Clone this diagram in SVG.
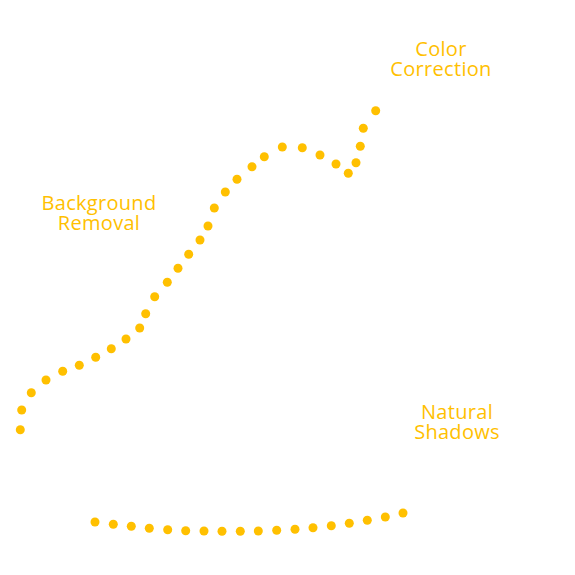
<svg xmlns="http://www.w3.org/2000/svg" width="575" height="575" viewBox="0 0 575 575">
<style>
.d{fill:#FFC000}
.t{font-family:"Open Sans","Liberation Sans",sans-serif;font-size:20px;letter-spacing:0.3px;fill:#FFC000;text-anchor:middle}
</style>
<rect width="575" height="575" fill="#fff"/>
<g id="connectors">
<g id="curve-top">
<circle class="d" cx="375.7" cy="110.7" r="4.5"/>
<circle class="d" cx="363.3" cy="128.3" r="4.5"/>
<circle class="d" cx="360.3" cy="146.3" r="4.5"/>
<circle class="d" cx="356" cy="162.7" r="4.5"/>
<circle class="d" cx="348.3" cy="173.3" r="4.5"/>
<circle class="d" cx="336" cy="164" r="4.5"/>
<circle class="d" cx="320" cy="155" r="4.5"/>
<circle class="d" cx="302.3" cy="147.7" r="4.5"/>
<circle class="d" cx="282.3" cy="147" r="4.5"/>
<circle class="d" cx="264.3" cy="156.7" r="4.5"/>
<circle class="d" cx="252" cy="166.7" r="4.5"/>
<circle class="d" cx="237" cy="179.3" r="4.5"/>
<circle class="d" cx="225.3" cy="192" r="4.5"/>
<circle class="d" cx="214.3" cy="208" r="4.5"/>
<circle class="d" cx="208" cy="226" r="4.5"/>
<circle class="d" cx="200" cy="240" r="4.5"/>
<circle class="d" cx="188.7" cy="254.3" r="4.5"/>
<circle class="d" cx="178" cy="268.3" r="4.5"/>
<circle class="d" cx="167.3" cy="282.3" r="4.5"/>
<circle class="d" cx="154.7" cy="296.7" r="4.5"/>
<circle class="d" cx="145.7" cy="313.7" r="4.5"/>
<circle class="d" cx="139.7" cy="328" r="4.5"/>
<circle class="d" cx="126" cy="339" r="4.5"/>
<circle class="d" cx="111.3" cy="348.7" r="4.5"/>
<circle class="d" cx="95.7" cy="357.3" r="4.5"/>
<circle class="d" cx="79.3" cy="365.3" r="4.5"/>
<circle class="d" cx="62.7" cy="371.3" r="4.5"/>
<circle class="d" cx="46" cy="380" r="4.5"/>
<circle class="d" cx="31.3" cy="392.7" r="4.5"/>
<circle class="d" cx="21.7" cy="410" r="4.5"/>
<circle class="d" cx="20.3" cy="429.7" r="4.5"/>
</g>
<g id="curve-bottom">
<circle class="d" cx="95" cy="522" r="4.5"/>
<circle class="d" cx="113.3" cy="524.3" r="4.5"/>
<circle class="d" cx="131.3" cy="526.3" r="4.5"/>
<circle class="d" cx="149.3" cy="528.3" r="4.5"/>
<circle class="d" cx="167.7" cy="529.7" r="4.5"/>
<circle class="d" cx="185.7" cy="530.7" r="4.5"/>
<circle class="d" cx="204" cy="531" r="4.5"/>
<circle class="d" cx="222" cy="531.3" r="4.5"/>
<circle class="d" cx="240.3" cy="531.3" r="4.5"/>
<circle class="d" cx="258.3" cy="531" r="4.5"/>
<circle class="d" cx="276.7" cy="530.3" r="4.5"/>
<circle class="d" cx="295" cy="529.3" r="4.5"/>
<circle class="d" cx="313" cy="527.7" r="4.5"/>
<circle class="d" cx="331.3" cy="525.7" r="4.5"/>
<circle class="d" cx="349.3" cy="523.3" r="4.5"/>
<circle class="d" cx="367.3" cy="520.3" r="4.5"/>
<circle class="d" cx="385.3" cy="517" r="4.5"/>
<circle class="d" cx="403" cy="513" r="4.5"/>
</g>
</g>
<g id="color-correction">
<text class="t" x="441" y="56">Color</text>
<text class="t" x="441" y="75.5">Correction</text>
</g>
<g id="background-removal">
<text class="t" x="99" y="210">Background</text>
<text class="t" x="99" y="229.5">Removal</text>
</g>
<g id="natural-shadows">
<text class="t" x="457" y="418.5">Natural</text>
<text class="t" x="457" y="438.5">Shadows</text>
</g>
</svg>
